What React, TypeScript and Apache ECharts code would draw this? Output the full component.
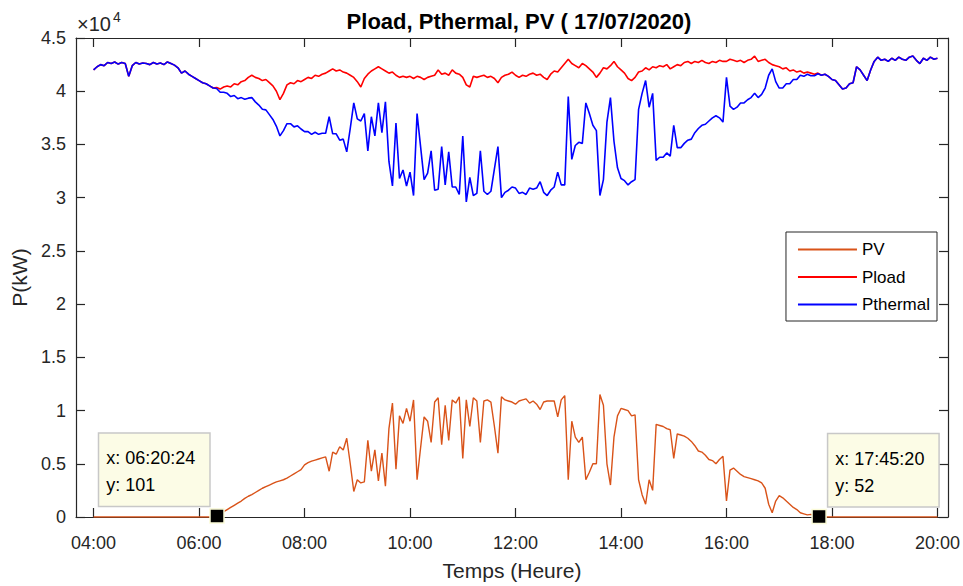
import React, { useEffect, useRef } from "react";
import * as echarts from "echarts";

// Sampling grid of the recorded profile: every 4 minutes from 04:00 to 20:00 (minutes since midnight)
const START_MIN = 240;
const STEP_MIN = 4;

// Pload (kW)
const pload = [
  42000, 42300, 42500, 42400, 42700, 42600, 42750, 42550, 42700, 42600, 41400, 42400, 42700, 42550, 42650,
  42600, 42500, 42700, 42550, 42650, 42500, 42750, 42600, 42450, 42200, 41700, 41900, 41600, 41400, 41200,
  41000, 40800, 40700, 40500, 40300, 40350, 40200, 40400, 40500, 40400, 40700, 40600, 40900, 41000, 41300,
  41500, 41300, 41200, 41000, 41100, 40800, 40500, 40000, 39200, 39800, 40600, 40800, 40700, 41000, 40900,
  41100, 41300, 41200, 41500, 41400, 41600, 41700, 41900, 42100, 41900, 42000, 41800, 41700, 41500, 41300,
  40900, 40400, 41200, 41600, 41900, 42100, 42300, 42100, 41900, 41700, 41800, 41500, 41300, 41400, 41300,
  41400, 41200, 41400, 41300, 41100, 41300, 41400, 41500, 42000, 41600, 41700, 41500, 42000, 41700, 41600,
  41300, 40600, 40400, 41400, 41300, 41400, 41500, 41300, 41400, 41200, 40800, 41300, 41500, 41600, 41800,
  41500, 41300, 41500, 41400, 41600, 41700, 41500, 41600, 41300, 41100, 41600, 41900, 41800, 42200, 42600,
  43000, 42600, 42400, 42200, 42600, 42400, 42100, 41800, 41300, 41700, 42200, 42100, 42400, 42800, 42300,
  42000, 41700, 41200, 41000, 41300, 41800, 41900, 42200, 42000, 42300, 42200, 42400, 42300, 42500, 42100,
  42300, 42500, 42400, 42700, 42800, 42600, 42800, 42700, 42900, 42700, 42600, 42800, 42700, 42900, 42800,
  42800, 43000, 42900, 42800, 42900, 42700, 42900, 43000, 43300, 42800, 42900, 43000, 42700, 42500, 42400,
  42300, 42100, 42200, 41900, 42000, 41800, 41900, 41700, 41800, 41700, 41600, 41700, 41500, 41600, 41400,
  41100, 41000, 40600, 40200, 40300, 40700, 40800, 42300, 42000, 41500, 41000, 42000, 42800, 43200, 42900,
  43000, 42800, 43100, 42900, 43200, 43000, 42900, 43200, 43300, 42900, 42600, 43100, 42900, 43200, 43000, 43100,
];

// PV (kW)
const pv = [
  0, 0, 0, 0, 0, 0, 0, 0, 0, 0, 0, 0, 0, 0, 0,
  0, 0, 0, 0, 0, 0, 0, 0, 0, 0, 0, 0, 0, 0, 0,
  0, 0, 0, 0, 0, 100, 300, 500, 700, 900, 1100, 1300, 1500, 1750, 1950,
  2100, 2300, 2500, 2700, 2850, 3000, 3150, 3300, 3400, 3500, 3650, 3850, 4050, 4250, 4450,
  4900, 5100, 5250, 5350, 5450, 5550, 5650, 4300, 6100, 5900, 6600, 6300, 7400, 5000, 2400,
  3500, 3200, 3300, 7200, 4300, 6300, 3400, 6000, 2900, 8300, 10700, 4500, 9500, 8800, 10200,
  9000, 11000, 3500, 6500, 9400, 9000, 7000, 10800, 11200, 6800, 10500, 7200, 11000, 10700, 11300,
  5500, 11000, 8500, 11200, 10900, 7000, 10900, 11000, 10800, 8500, 6000, 11300, 11000, 10900, 10800,
  10600, 10900, 11000, 11100, 10700, 10900, 10600, 10100, 10800, 10900, 10900, 10900, 9400, 11000, 11400,
  3500, 9000, 7500, 7000, 7500, 3500, 4200, 5000, 5000, 11500, 10500, 5000, 3000, 7500, 9500,
  10200, 10100, 10000, 9500, 9600, 3500, 2100, 1200, 3500, 2500, 8700, 8600, 8500, 8300, 8200,
  5500, 7800, 7700, 7600, 7400, 7100, 6700, 6200, 6100, 5800, 5400, 5300, 5000, 5400, 5700,
  1500, 4400, 4600, 4300, 4000, 3800, 3700, 3600, 3500, 3400, 3200, 2700, 1200, 400, 1500,
  2000, 1800, 1500, 1200, 900, 700, 400, 300, 200, 250, 150, 60, 0, 0, 0,
  0, 0, 0, 0, 0, 0, 0, 0, 0, 0, 0, 0, 0, 0, 0,
  0, 0, 0, 0, 0, 0, 0, 0, 0, 0, 0, 0, 0, 0, 0, 0,
];

// Pthermal (kW)
const pthermal = [
  42000, 42300, 42500, 42400, 42700, 42600, 42750, 42550, 42700, 42600, 41400, 42400, 42700, 42550, 42650,
  42600, 42500, 42700, 42550, 42650, 42500, 42750, 42600, 42450, 42200, 41700, 41900, 41600, 41400, 41200,
  41000, 40800, 40700, 40500, 40300, 40250, 39900, 39900, 39800, 39500, 39600, 39300, 39400, 39250, 39350,
  39400, 39000, 38700, 38300, 38250, 37800, 37350, 36700, 35800, 36300, 36950, 36950, 36650, 36750, 36450,
  36200, 36200, 35950, 36150, 35950, 36050, 36050, 37600, 36000, 36000, 35400, 35500, 34300, 36500, 38900,
  37400, 37200, 37900, 34400, 37600, 35800, 38900, 36100, 39000, 33400, 31100, 37000, 31800, 32600, 31100,
  32400, 30200, 37900, 34800, 31700, 32300, 34400, 30700, 30800, 34800, 31200, 34300, 31000, 31000, 30300,
  35800, 29600, 31900, 30200, 30400, 34400, 30600, 30300, 30600, 32700, 34800, 30000, 30500, 30700, 31000,
  30900, 30400, 30500, 30300, 30900, 30800, 30900, 31500, 30500, 30200, 30700, 31000, 32400, 31200, 31200,
  39500, 33600, 34900, 35200, 35100, 38900, 37900, 36800, 36300, 30200, 31700, 37100, 39400, 35300, 32800,
  31800, 31600, 31200, 31500, 31700, 38300, 39800, 41000, 38500, 39800, 33500, 33800, 33800, 34200, 33900,
  36800, 34700, 34700, 35100, 35400, 35500, 36100, 36500, 36800, 36900, 37200, 37500, 37700, 37500, 37100,
  41300, 38600, 38300, 38500, 38900, 38900, 39200, 39400, 39800, 39400, 39700, 40300, 41500, 42100, 40900,
  40300, 40300, 40700, 40700, 41100, 41100, 41500, 41400, 41600, 41450, 41450, 41640, 41500, 41600, 41400,
  41100, 41000, 40600, 40200, 40300, 40700, 40800, 42300, 42000, 41500, 41000, 42000, 42800, 43200, 42900,
  43000, 42800, 43100, 42900, 43200, 43000, 42900, 43200, 43300, 42900, 42600, 43100, 42900, 43200, 43000, 43100,
];

// x tick positions (minutes since midnight): 04:00 ... 20:00
const xTickMinutes = [240, 360, 480, 600, 720, 840, 960, 1080, 1200];

// Data tips on the PV curve
const tipTimes = ["06:20:24", "17:45:20"];
const tipValues = [101, 52];

const seriesNames = ["PV", "Pload", "Pthermal"];
const seriesColors = ["#D95319", "#FF0000", "#0000FF"];

const FONT = '"Liberation Sans", Arial, Helvetica, sans-serif';
const AXIS = "#262626";

function pad(n: number) {
  return n < 10 ? "0" + n : String(n);
}
function hhmm(m: number) {
  const h = Math.floor(m / 60);
  const mm = Math.round(m - h * 60);
  return pad(h) + ":" + pad(mm);
}
function toMin(s: string) {
  const p = s.split(":").map(Number);
  return p[0] * 60 + p[1] + (p[2] || 0) / 60;
}
function toPairs(vals: number[]) {
  return vals.map((v, i) => [START_MIN + i * STEP_MIN, v]);
}

export default function App() {
  const ref = useRef<HTMLDivElement>(null);

  useEffect(() => {
    if (!ref.current) return;
    const chart = echarts.init(ref.current, null, { renderer: "svg" });

    const axisLineStyle = { color: AXIS, width: 1.2 };
    const xCommon = {
      type: "value",
      min: 220,
      max: 1212,
      splitLine: { show: false },
      axisLine: { show: true, onZero: false, lineStyle: axisLineStyle },
      axisTick: { show: true, inside: true, length: 9, customValues: xTickMinutes, lineStyle: axisLineStyle },
    };
    const yCommon = {
      type: "value",
      min: 0,
      max: 45000,
      interval: 5000,
      splitLine: { show: false },
      axisLine: { show: true, onZero: false, lineStyle: axisLineStyle },
      axisTick: { show: true, inside: true, length: 9, lineStyle: axisLineStyle },
    };

    const TIP_W = 92; // content width of a data tip box
    const tipData = tipTimes.map((t, i) => ({
      coord: [toMin(t), tipValues[i]],
      label: {
        show: true,
        formatter: "x: " + t + "\ny: " + tipValues[i],
        position: i === 0 ? [-(TIP_W + 20) + 2, -2.5] : [17, -2.5],
        align: "left",
        verticalAlign: "bottom",
        width: TIP_W,
        overflow: "none",
        fontFamily: FONT,
        fontSize: 18,
        lineHeight: 27,
        color: "#000",
        backgroundColor: "#fcfce6",
        borderColor: "#c8c8c8",
        borderWidth: 1.5,
        padding: [11, 11, 7, 7],
      },
    }));

    const series = [pv, pload, pthermal].map((vals, i) => {
      const s: any = {
        name: seriesNames[i],
        type: "line",
        data: toPairs(vals),
        symbol: "none",
        showSymbol: false,
        lineStyle: { color: seriesColors[i], width: i === 0 ? 1.4 : 1.6 },
        itemStyle: { color: seriesColors[i] },
        emphasis: { disabled: true },
        z: 2 + i,
      };
      if (i === 0) {
        s.markPoint = {
          symbol: "rect",
          symbolSize: 14,
          itemStyle: { color: "#000", borderColor: "#fbfbd8", borderWidth: 1.5 },
          z: 10,
          data: tipData,
        };
      }
      return s;
    });

    chart.setOption({
      animation: false,
      backgroundColor: "#ffffff",
      textStyle: { fontFamily: FONT },
      title: {
        text: "Pload, Pthermal, PV ( 17/07/2020)",
        left: 514,
        top: 5,
        textAlign: "center",
        textStyle: { fontFamily: FONT, fontSize: 22, fontWeight: "bold", color: "#000" },
      },
      grid: { left: 76, right: 15, top: 38, bottom: 68, containLabel: false },
      legend: {
        orient: "vertical",
        right: 26,
        top: 232,
        padding: [9, 7, 8, 12],
        itemGap: 10.5,
        itemWidth: 59,
        itemHeight: 2,
        icon: "rect",
        backgroundColor: "#ffffff",
        borderColor: AXIS,
        borderWidth: 1,
        textStyle: { fontFamily: FONT, fontSize: 17, color: "#000" },
        data: seriesNames,
      },
      xAxis: [
        {
          ...xCommon,
          position: "bottom",
          axisLabel: {
            customValues: xTickMinutes,
            formatter: (v: number) => hhmm(v),
            fontFamily: FONT,
            fontSize: 18,
            color: AXIS,
            margin: 17,
          },
          name: "Temps (Heure)",
          nameLocation: "middle",
          nameGap: 43,
          nameTextStyle: { fontFamily: FONT, fontSize: 21, color: AXIS },
        },
        { ...xCommon, position: "top", axisLabel: { show: false } },
      ],
      yAxis: [
        {
          ...yCommon,
          position: "left",
          axisLabel: {
            formatter: (v: number) => String(v / 10000),
            fontFamily: FONT,
            fontSize: 18,
            color: AXIS,
            margin: 10,
          },
          name: "P(kW)",
          nameLocation: "middle",
          nameGap: 44,
          nameTextStyle: { fontFamily: FONT, fontSize: 21, color: AXIS },
        },
        { ...yCommon, position: "right", axisLabel: { show: false } },
      ],
      graphic: [
        { type: "text", left: 77, top: 14, style: { text: "×10", fontFamily: FONT, fontSize: 20, fill: AXIS } },
        { type: "text", left: 113, top: 10, style: { text: "4", fontFamily: FONT, fontSize: 14, fill: AXIS } },
      ],
      series,
    });

    return () => chart.dispose();
  }, []);

  return (
    <div
      ref={ref}
      style={{ position: "absolute", left: 0, top: 0, width: 963, height: 586, background: "#fff" }}
    />
  );
}
